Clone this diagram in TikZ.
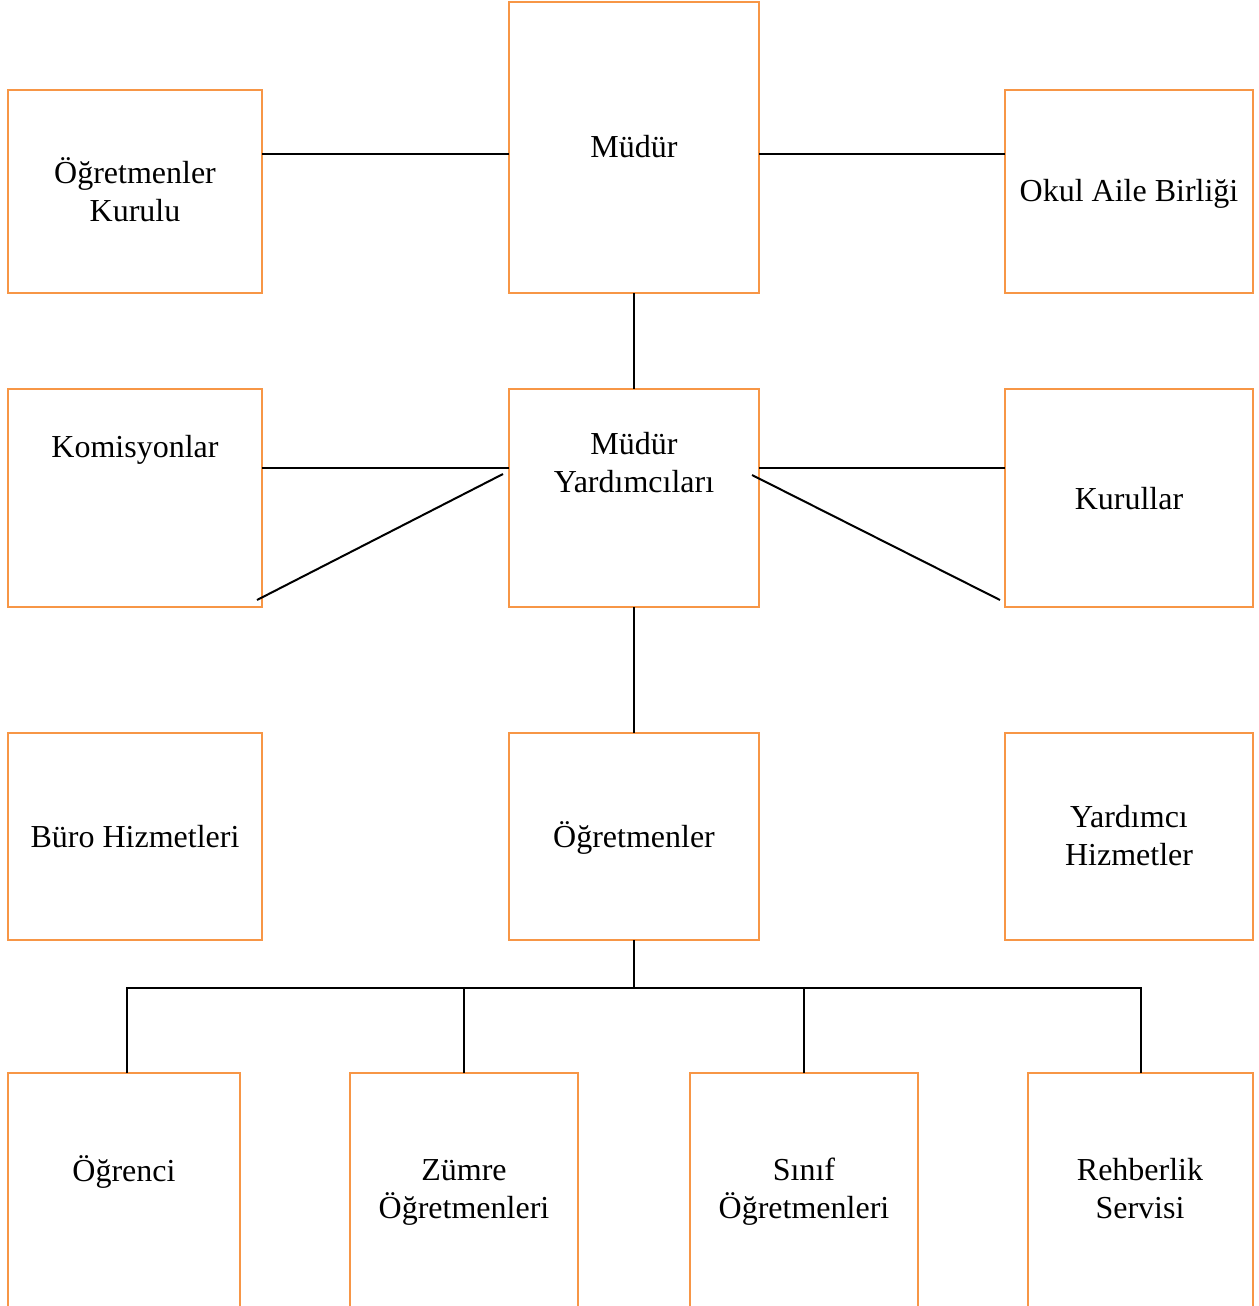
\documentclass[tikz,border=0pt]{standalone}
\usepackage{fontspec}
\setmainfont{Liberation Serif}
\usetikzlibrary{fit}
\definecolor{boxorange}{HTML}{F79646}
\tikzset{
  box/.style={draw=boxorange, line width=1pt, inner sep=0pt, outer sep=0pt, fit={#1}},
  lbl/.style={anchor=base, align=center, inner sep=0pt, font=\fontsize{16}{18.65}\selectfont},
  conn/.style={draw=black, line width=1pt}
}
\begin{document}
\begin{tikzpicture}[x=0.5pt, y=-0.5pt]
\useasboundingbox (0,0) rectangle (1258,1306);
\clip (0,0) rectangle (1258,1306);
\fill[white] (0,0) rectangle (1258,1306);
% boxes
\node[box={(8,90) (262,293)}] (K) {};
\node[box={(509,2) (759,293)}] (M) {};
\node[box={(1005,90) (1253,293)}] (O) {};
\node[box={(8,389) (262,607)}] (Kom) {};
\node[box={(509,389) (759,607)}] (MY) {};
\node[box={(1005,389) (1253,607)}] (Kur) {};
\node[box={(8,733) (262,940)}] (B) {};
\node[box={(509,733) (759,940)}] (Og) {};
\node[box={(1005,733) (1253,940)}] (Y) {};
\node[box={(8,1073) (240,1340)}] (Ogr) {};
\node[box={(350,1073) (578,1340)}] (Z) {};
\node[box={(690,1073) (918,1340)}] (S) {};
\node[box={(1028,1073) (1253,1340)}] (R) {};
% labels (multi-line labels are placed by the baseline of their last line)
\node[lbl] (tK) at (135,221) {Öğretmenler\\Kurulu};
\node[lbl] (tM) at (634,157) {Müdür};
\node[lbl] (tO) at (1129,201) {Okul Aile Birliği};
\node[lbl] (tKom) at (135,457) {Komisyonlar};
\node[lbl] (tMY) at (634,492) {Müdür\\Yardımcıları};
\node[lbl] (tKur) at (1129,509) {Kurullar};
\node[lbl] (tB) at (135,847) {Büro Hizmetleri};
\node[lbl] (tOg) at (634,847) {Öğretmenler};
\node[lbl] (tY) at (1129,865) {Yardımcı\\Hizmetler};
\node[lbl] (tOgr) at (124,1181) {Öğrenci};
\node[lbl] (tZ) at (464,1218) {Zümre\\Öğretmenleri};
\node[lbl] (tS) at (804,1218) {Sınıf\\Öğretmenleri};
\node[lbl] (tR) at (1140,1218) {Rehberlik\\Servisi};
% connectors
\coordinate (yA) at (0,154);
\coordinate (yB) at (0,468);
\coordinate (yC) at (0,988);
\draw[conn] (K.east |- yA) -- (M.west |- yA);
\draw[conn] (M.east |- yA) -- (O.west |- yA);
\draw[conn] (M.south) -- (MY.north);
\draw[conn] (Kom.east |- yB) -- (MY.west |- yB);
\draw[conn] (MY.east |- yB) -- (Kur.west |- yB);
\draw[conn] ([shift={(-5,-7)}]Kom.south east) -- ([shift={(-6,85)}]MY.north west);
\draw[conn] ([shift={(-7,86)}]MY.north east) -- ([shift={(-5,-7)}]Kur.south west);
\draw[conn] (MY.south) -- (Og.north);
\draw[conn] (Og.south) -- (Og.south |- yC);
\draw[conn] ([xshift=1.5pt]Ogr.north) |- (R.north |- yC) -- (R.north);
\draw[conn] (Z.north) -- (Z.north |- yC);
\draw[conn] (S.north) -- (S.north |- yC);
\end{tikzpicture}
\end{document}
